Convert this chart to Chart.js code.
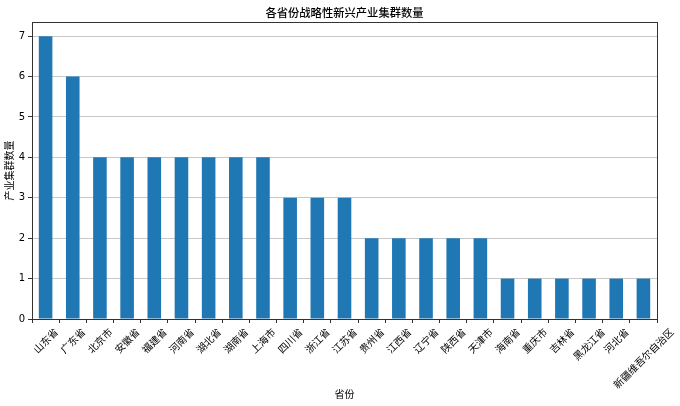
<!DOCTYPE html>
<html>
<head>
<meta charset="utf-8">
<script src="https://cdn.jsdelivr.net/npm/chart.js@4.4.0/dist/chart.umd.min.js"></script>
<style>
  html, body { margin: 0; padding: 0; background: #fff; }
  #wrap { width: 680px; height: 406px; }
</style>
</head>
<body>
<div id="wrap"><canvas id="clusterChart"></canvas></div>
<script>
const provinces = ['山东省', '广东省', '北京市', '安徽省', '福建省', '河南省', '湖北省', '湖南省',
    '上海市', '四川省', '浙江省', '江苏省', '贵州省', '江西省', '辽宁省', '陕西省', '天津市',
    '海南省', '重庆市', '吉林省', '黑龙江省', '河北省', '新疆维吾尔自治区'];
const clusterCounts = [7, 6, 4, 4, 4, 4, 4, 4, 4, 3, 3, 3, 2, 2, 2, 2, 2, 1, 1, 1, 1, 1, 1];
const yTicks = [0, 1, 2, 3, 4, 5, 6, 7];
const chartTitle = '各省份战略性新兴产业集群数量';

const cjk = '"Noto Sans CJK SC", "DejaVu Sans", sans-serif';

// box around the plot like matplotlib spines, plus the title centred over the axes
const frame = {
    id: 'frame',
    afterDraw(chart) {
        const { ctx, chartArea: a } = chart;
        ctx.save();
        ctx.strokeStyle = '#333';
        ctx.lineWidth = 1;
        ctx.strokeRect(Math.round(a.left) + 0.5, Math.round(a.top) + 0.5,
            Math.round(a.right - a.left), Math.round(a.bottom - a.top));
        ctx.font = '500 11.3px ' + cjk;
        ctx.fillStyle = '#000';
        ctx.textAlign = 'center';
        ctx.textBaseline = 'middle';
        ctx.fillText(chartTitle, (a.left + a.right) / 2, 12.5);
        ctx.restore();
    }
};

// rotated x labels centred under their tick (Chart.js right-aligns them)
const centredLabels = {
    id: 'centredLabels',
    afterDraw(chart) {
        const { ctx, chartArea: a } = chart;
        const xs = chart.scales.x;
        const size = 10;
        const y0 = a.bottom + 7;
        ctx.save();
        ctx.font = size + 'px ' + cjk;
        ctx.fillStyle = '#000';
        ctx.textAlign = 'center';
        ctx.textBaseline = 'middle';
        provinces.forEach((name, i) => {
            const x = xs.getPixelForTick(i);
            const w = ctx.measureText(name).width;
            const half = (w + size * 1.15) * Math.SQRT1_2 / 2;
            ctx.save();
            ctx.translate(x, y0 + half);
            ctx.rotate(-Math.PI / 4);
            ctx.fillText(name, 0, 0);
            ctx.restore();
        });
        ctx.restore();
    }
};

document.addEventListener('DOMContentLoaded', function() {
    const ctx = document.getElementById('clusterChart').getContext('2d');
    new Chart(ctx, {
        type: 'bar',
        data: {
            labels: provinces,
            datasets: [{
                label: '产业集群数量',
                data: clusterCounts,
                backgroundColor: '#1f77b4',
                categoryPercentage: 1,
                barPercentage: 0.5
            }]
        },
        options: {
            responsive: true,
            maintainAspectRatio: false,
            animation: false,
            layout: { padding: { left: 0, right: 23, top: 22, bottom: 2 } },
            plugins: {
                legend: { display: false },
                tooltip: { enabled: false },
                title: { display: false }
            },
            scales: {
                x: {
                    afterFit: function(scale) { scale.height = 85; },
                    grid: { drawOnChartArea: false, tickLength: 4, tickColor: '#333' },
                    border: { color: '#333' },
                    ticks: {
                        color: 'rgba(0,0,0,0)',
                        font: { family: cjk, size: 10 },
                        minRotation: 45,
                        maxRotation: 45,
                        autoSkip: false
                    },
                    title: {
                        display: true,
                        text: '省份',
                        color: '#000',
                        font: { family: cjk, size: 10 },
                        padding: { top: 0, bottom: 4 }
                    }
                },
                y: {
                    min: 0,
                    max: 7.35,
                    afterBuildTicks: function(scale) {
                        scale.ticks = yTicks.map(v => ({ value: v }));
                    },
                    afterFit: function(scale) { scale.width = 32; },
                    grid: { color: '#c8c8c8', tickLength: 4, tickColor: '#333' },
                    border: { color: '#333' },
                    ticks: {
                        color: '#000',
                        font: { family: 'DejaVu Sans', size: 10 },
                        padding: 3
                    },
                    title: {
                        display: true,
                        text: '产业集群数量',
                        color: '#000',
                        font: { family: cjk, size: 10 },
                        padding: { top: 3, bottom: 0 }
                    }
                }
            }
        },
        plugins: [frame, centredLabels]
    });
});
</script>
</body>
</html>
